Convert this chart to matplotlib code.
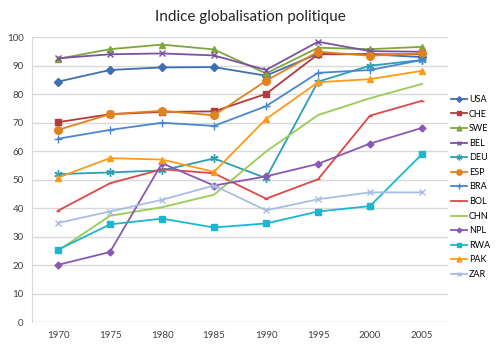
import matplotlib
matplotlib.use("Agg")
import matplotlib.pyplot as plt

years = ["1970", "1975", "1980", "1985", "1990", "1995", "2000", "2005"]

usa = [84.4, 88.5, 89.4, 89.5, 86.5, 94.2, 94.0, 93.0]
che = [70.2, 73.0, 73.8, 74.0, 80.1, 94.0, 94.0, 94.0]
swe = [92.4, 95.8, 97.4, 95.7, 87.3, 96.3, 95.8, 96.6]
bel = [92.6, 94.0, 94.3, 93.6, 88.5, 98.4, 95.1, 94.9]
deu = [52.0, 52.6, 53.3, 57.5, 50.6, 84.4, 90.0, 92.0]
esp = [67.5, 73.0, 74.2, 72.6, 84.7, 94.9, 93.5, 94.3]
bra = [64.4, 67.5, 70.0, 68.9, 75.8, 87.5, 88.5, 92.0]
bol = [39.2, 48.8, 53.7, 52.3, 43.4, 50.2, 72.5, 77.7]
chn = [25.2, 37.4, 40.4, 44.8, 59.9, 72.7, 78.6, 83.6]
npl = [20.2, 24.7, 55.8, 48.0, 51.2, 55.6, 62.7, 68.2]
rwa = [25.5, 34.4, 36.4, 33.3, 34.7, 38.9, 40.8, 59.0]
pak = [50.8, 57.6, 57.1, 52.8, 71.3, 84.2, 85.3, 88.2]
zar = [34.9, 38.9, 43.0, 48.0, 39.3, 43.2, 45.6, 45.6]

series = [
    ("USA", usa, "#3E6FB0", "D", 4),
    ("CHE", che, "#B23B3B", "s", 5),
    ("SWE", swe, "#7FA63E", "^", 5),
    ("BEL", bel, "#7B51A0", "x", 5),
    ("DEU", deu, "#2A9FB5", (6, 2, 0), 6),
    ("ESP", esp, "#E0821F", "o", 5.5),
    ("BRA", bra, "#4A86D0", "+", 6),
    ("BOL", bol, "#E04848", "_", 3),
    ("CHN", chn, "#97CC55", None, 0),
    ("NPL", npl, "#8A58B3", "D", 3.5),
    ("RWA", rwa, "#1CB6D2", "s", 5),
    ("PAK", pak, "#FF9A1A", "^", 5),
    ("ZAR", zar, "#A8BDE2", "x", 5),
]

plt.rcParams["font.family"] = ["Lato", "DejaVu Sans"]

fig = plt.figure(figsize=(5, 3.54), dpi=100)
ax = fig.add_axes([0.064, 0.089, 0.832, 0.806])

x = list(range(len(years)))
for name, vals, color, marker, ms in series:
    ax.plot(x, vals, color=color, lw=1.3, marker=marker, markersize=ms,
            markeredgewidth=1.0, label=name)

ax.set_xlim(-0.5, len(years) - 0.5)
ax.set_ylim(0, 100)
ax.set_yticks(range(0, 101, 10))
ax.set_xticks(x)
ax.set_xticklabels(years)
ax.yaxis.grid(True, color="#D9D9D9", lw=1)
ax.set_axisbelow(True)
for s in ["top", "right", "bottom"]:
    ax.spines[s].set_visible(False)
ax.spines["left"].set_color("#D9D9D9")
ax.tick_params(length=0, labelsize=7, colors="#404040", pad=6)

fig.text(0.5, 0.952, "Indice globalisation politique", ha="center", va="center",
         fontsize=11, color="#262626")

# legend markers are drawn smaller than on the lines
fig.legend(loc="center left", bbox_to_anchor=(0.902, 1 - 187 / 354),
           frameon=False, fontsize=6.5, handlelength=1.8, handletextpad=0.2,
           labelspacing=0.62, borderaxespad=0, borderpad=0, markerscale=0.7)

fig.savefig("out.png", dpi=100)
